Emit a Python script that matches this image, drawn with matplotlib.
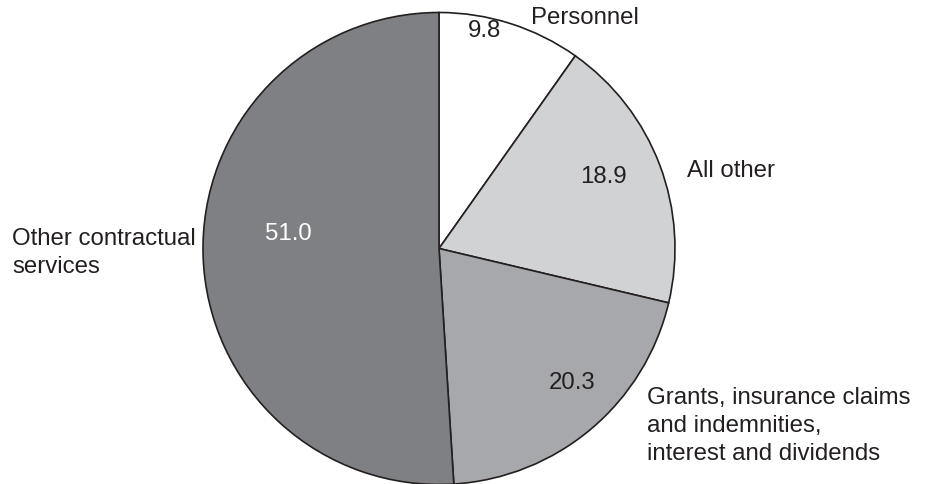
import matplotlib
matplotlib.use("Agg")
import matplotlib.pyplot as plt

# shares of spending, clockwise from the top
categories = ["Personnel", "All other",
              "Grants, insurance claims\nand indemnities,\ninterest and dividends",
              "Other contractual\nservices"]
values = [9.8, 18.9, 20.3, 51.0]
colors = ["#ffffff", "#d1d2d4", "#a7a8ab", "#7f8084"]

plt.rcParams['font.family'] = ['Liberation Sans', 'DejaVu Sans']

W, H = 928, 484
fig = plt.figure(figsize=(W / 100, H / 100), dpi=100)
ax = fig.add_axes([0, 0, 1, 1])

cx, cy, r = 439, H - 248.5, 236
ax.pie(values, colors=colors, startangle=90, counterclock=False,
       center=(cx, cy), radius=r,
       wedgeprops=dict(edgecolor="#231f20", linewidth=1.2))

ax.set_xlim(0, W)
ax.set_ylim(0, H)
ax.set_aspect("equal")
ax.axis("off")

fs = 17.3
# value labels (pixel positions from the top left)
val_pos = [(485, 31), (603, 177), (572, 383), (288, 234)]
val_col = ["#231f20", "#231f20", "#231f20", "white"]
for v, (x, y), c in zip(values, val_pos, val_col):
    ax.text(x, H - y, f"{v:.1f}", ha="center", va="center", fontsize=fs, color=c)

# category labels
cat_pos = [(531, 18), (687, 171), (647, 426), (12, 253)]
for name, (x, y) in zip(categories, cat_pos):
    ax.text(x, H - y, name, ha="left", va="center", fontsize=fs, color="#231f20",
            linespacing=1.38)

fig.savefig("out.png", dpi=100)
